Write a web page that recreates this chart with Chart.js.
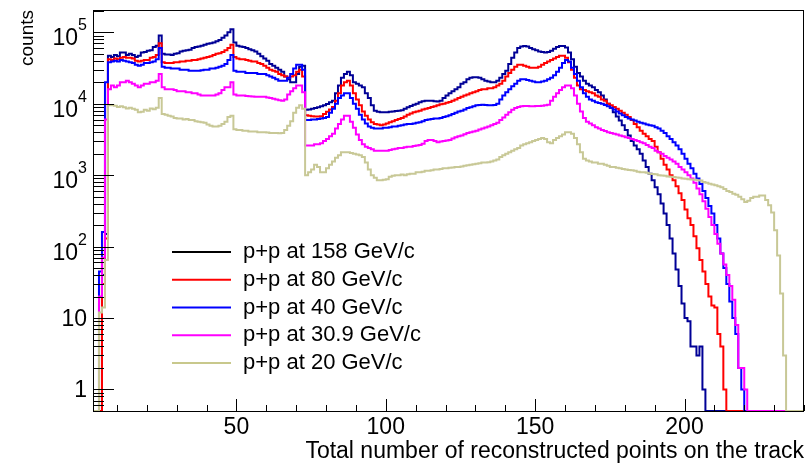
<!DOCTYPE html>
<html>
<head>
<meta charset="utf-8">
<script src="https://cdn.jsdelivr.net/npm/chart.js@4.4.1/dist/chart.umd.min.js"></script>
<style>
html,body{margin:0;padding:0;background:#fff}
canvas{display:block}
</style>
</head>
<body>
<canvas id="c" width="806" height="465"></canvas>
<script>
// histogram bins are 1 point wide, first bin starts at 2 points
const firstBin=2;

const pp158=[
 0,0,0,40,150,47000,45000,48000,46000,52000,
 52000,48000,50000,48000,45000,47000,52000,53000,55000,56000,
 62000,65000,90000,50000,49000,49000,48000,50000,51000,54000,
 55000,56000,57000,60000,62000,63000,65000,67000,69000,70000,
 72000,75000,78000,84000,90000,100000,110000,72000,65000,63000,
 62000,60000,58000,56000,54000,50000,46000,43000,40000,36000,
 34000,32000,30000,28000,24000,22000,20000,20000,26000,33000,
 34000,8200,8300,8500,8700,8900,9200,9500,9900,10500,
 11000,14000,18000,23000,26000,28000,25000,20000,19000,18000,
 17000,14000,12000,9500,8000,7700,7600,7600,7600,7700,
 7800,7900,8000,8100,8500,8900,9300,9700,10000,10500,
 10800,11000,11000,11000,10800,10700,11000,12000,13000,14000,
 15000,16000,17000,19000,20000,22000,23000,23500,23500,23000,
 22000,21000,20500,20000,20000,21000,23000,26000,29000,36000,
 44000,52000,60000,63000,64000,63000,60000,58000,56000,54000,
 53000,52000,53000,55000,59000,62000,64000,64000,61000,52000,
 42000,33000,27000,24000,21000,19000,18000,17000,15500,14500,
 13000,11500,10000,8800,7600,6600,5800,5000,4300,3600,
 3000,2600,2300,2000,1600,1300,1050,850,680,540,
 400,290,200,130,80,48,28,16,10,9,
 4,4,3,4,1,0,0,0,0,0,
 0,0,0,0,0,0,0,0,0,0,
 0,0,0,0,0,0,0,0,0,0,
 0,0,0,0,0,0,0,0
];
const pp80=[
 0,0,0,30,130,42000,41000,43000,42000,44000,
 45000,44000,44000,43000,40000,39000,40000,41000,41000,44000,
 45000,48000,70000,38000,37000,37000,37000,38000,38000,39000,
 39000,40000,40000,41000,41000,42000,43000,44000,45000,46000,
 48000,50000,51000,53000,56000,60000,67000,45000,43000,42000,
 42000,41000,40000,39000,39000,37000,36000,34000,32000,30000,
 29000,28000,26000,25000,24000,23000,24000,25000,28000,30000,
 24000,6900,6800,6700,6600,6600,6700,7200,7700,8300,
 9000,11000,14000,18000,20000,21000,18000,14000,11500,9500,
 7800,6800,6000,5500,5200,5100,5000,5100,5300,5500,
 5700,5900,6100,6300,6600,7000,7300,7600,7800,8000,
 8300,8500,8700,9000,9200,9500,9800,10000,10300,10600,
 11000,11500,12000,12500,13000,13500,14000,14500,15000,15500,
 16000,16000,16500,16500,17000,18000,19000,21000,24000,27000,
 30000,33000,35000,35000,34000,33000,32000,32000,32000,33000,
 35000,37000,39000,41000,43000,45000,47000,47000,44000,38000,
 30000,23000,18000,16000,15500,15000,14500,14000,13000,12500,
 11500,11000,10000,9500,9000,8500,8000,7500,7000,6500,
 5900,5200,4700,4200,3800,3500,3200,3000,2500,2100,
 1700,1400,1200,1000,850,700,560,450,330,250,
 200,140,95,65,45,30,20,15,14,6,
 4,1,0,0,0,0,0,0,0,0,
 0,0,0,0,0,0,0,0,0,0,
 0,0,0,0,0,0,0,0
];
const pp40=[
 0,0,45,160,20000,38000,39000,40000,39000,41000,
 40000,39000,38000,37000,35000,34000,35000,37000,37000,38000,
 39000,42000,60000,33000,32000,32000,31000,31000,31000,30000,
 30000,30000,29000,29000,29000,29000,29500,30000,30000,31000,
 31000,32000,33000,34000,36000,41000,48000,29000,28000,28000,
 28000,27000,27000,27000,27000,26000,26000,26000,25000,24000,
 23000,22000,21000,21000,21000,23000,26000,31000,35000,35000,
 30000,5900,5900,6000,6000,6100,6200,6300,6500,7500,
 8500,10000,12000,13000,14000,14000,12000,10000,8500,7000,
 6000,5300,4800,4600,4500,4500,4500,4600,4600,4700,
 4800,4800,4900,5000,5100,5200,5200,5300,5400,5500,
 5700,5900,6000,6100,6200,6200,6300,6500,6700,6900,
 7200,7500,7800,8000,8300,8700,8900,9200,9500,9600,
 9700,9600,9500,9500,9600,10000,11500,13000,14500,16000,
 17500,19000,21000,22000,22000,21500,21000,20500,20000,20000,
 20500,21000,22000,23000,25000,28000,32000,37000,41000,39000,
 32000,26000,21000,17000,14000,12500,11500,11000,10500,10200,
 10000,9600,9200,8800,8300,7800,7300,6900,6500,6200,
 6000,5800,5600,5400,5300,5100,5000,4900,4700,4500,
 4200,3900,3500,3200,2900,2600,2300,2000,1700,1450,
 1250,1050,900,750,600,480,370,290,200,130,
 80,50,30,17,10,6,2,1,0,0,
 0,0,0,0,0,0,0,0,0,0,
 0,0,0,0,0,0,0,0
];
const pp309=[
 0,0,20,70,6000,16000,18000,17000,18000,20000,
 20000,21000,20000,19000,18000,17000,18000,19000,19000,20000,
 20000,21000,26000,17000,16000,16000,16000,15500,15000,15000,
 15000,14500,14500,14000,14000,13500,13000,13000,13000,13000,
 13000,13500,14000,15500,17000,17000,20000,13500,13000,13000,
 13000,12800,12700,12600,12500,12500,12500,12500,12200,12000,
 11700,11500,11200,11000,11500,13500,15000,16500,18000,18000,
 14500,2600,2600,2600,2700,2700,2800,3000,3200,3500,
 3800,4500,5200,6000,6800,6800,5600,4600,3700,3100,
 2700,2500,2400,2300,2200,2200,2200,2200,2200,2250,
 2300,2350,2400,2400,2450,2500,2500,2550,2600,2650,
 2750,3000,3100,3100,3000,2900,2950,3000,3050,3100,
 3250,3400,3500,3600,3750,3900,4000,4100,4200,4350,
 4500,4650,4800,5000,5200,5400,5900,6400,7000,7600,
 8200,8700,9000,9200,9300,9300,9200,9200,9300,9300,
 9400,9500,9700,11000,12500,14000,15500,17000,18000,18000,
 16500,13000,10000,7800,6300,5600,5300,5000,4700,4500,
 4300,4150,4000,3900,3800,3700,3600,3500,3400,3300,
 3200,3100,3000,2900,2800,2650,2500,2400,2200,2100,
 2000,1850,1750,1650,1550,1450,1300,1200,1100,1000,
 900,780,650,540,430,340,260,200,150,110,
 80,56,40,28,18,8,2,2,1,0,
 0,0,0,0,0,0,0,0,0,0,
 0,0,0,0,0,0,0,0
];
const pp20=[
 0,0,12,14,65,9500,9500,9400,9000,9200,
 8900,8600,8800,8500,8200,7600,7700,8200,8000,8600,
 8400,8800,12000,7200,7000,6800,6600,6300,6200,6200,
 6000,6100,5900,5900,5700,5600,5500,5400,5100,4900,
 4800,4800,4900,5200,5600,6500,6800,4400,4300,4300,
 4200,4200,4100,4100,4100,4000,4000,4000,3950,3900,
 3900,3900,3850,3900,4300,4900,5700,7500,8800,9500,
 8500,1000,1100,1200,1400,1300,1100,1100,1250,1400,
 1550,1750,1900,2100,2100,2100,2050,2000,1950,1900,
 1800,1500,1200,1000,920,850,850,860,880,950,
 980,1000,1000,1020,1000,1030,1050,1050,1100,1100,
 1120,1150,1150,1170,1200,1200,1220,1250,1250,1270,
 1280,1300,1300,1320,1350,1380,1400,1420,1450,1470,
 1500,1500,1520,1550,1600,1650,1800,1900,2000,2100,
 2200,2300,2400,2600,2700,2800,2900,3000,3100,3200,
 3300,3200,2900,2800,3100,3300,3500,3700,4000,4000,
 3800,3300,2700,2100,1700,1600,1550,1500,1500,1450,
 1450,1400,1350,1300,1300,1270,1250,1220,1200,1180,
 1170,1150,1120,1100,1100,1080,1050,1040,1030,1000,
 990,980,960,950,940,930,920,900,890,880,
 870,860,850,840,800,780,760,740,720,700,
 680,640,600,580,550,530,500,460,420,440,
 480,500,500,520,520,450,380,300,170,75,
 22,3,0,0,0,0,0,0
];

const seriesLabels=['p+p at 158 GeV/c','p+p at 80 GeV/c','p+p at 40 GeV/c','p+p at 30.9 GeV/c','p+p at 20 GeV/c'];
const seriesValues=[pp158,pp80,pp40,pp309,pp20];
const lineColors=['#000096','#ff0000','#0000ff','#ff00ff','#c8c896'];
const legendColors=['#000000','#ff0000','#0000ff','#ff00ff','#c8c88c'];

const xTickLabels=[50,100,150,200];
const yTickValues=[1,10,100,1000,10000,100000];
const yTickLabels=['1','10','10^2','10^3','10^4','10^5'];
const xTitle='Total number of reconstructed points on the track';
const yTitle='counts';

const xMin=2, xMax=240, yMin=0.5, yMax=2.05e5;
const FONT='"Liberation Sans", Arial, Helvetica, sans-serif';

// empty bins sit on the bottom of the frame, like ROOT does on log axes
function histPoints(values){
  const pts=values.map((v,i)=>({x:firstBin+i,y:v>0?v:yMin}));
  pts.push({x:firstBin+values.length,y:pts[pts.length-1].y});
  return pts;
}

function drawLabel(ctx,label,xr,yc){
  const m=label.match(/^10\^(\d+)$/);
  ctx.textAlign='right'; ctx.textBaseline='alphabetic';
  if(!m){ ctx.font='23px '+FONT; ctx.fillText(label,xr,yc+8); return; }
  ctx.font='16px '+FONT;
  const sw=ctx.measureText(m[1]).width;
  ctx.fillText(m[1],xr,yc-2);
  ctx.font='23px '+FONT;
  ctx.fillText('10',xr-sw,yc+13);
}

const rootFrame={
  id:'rootFrame',
  afterDatasetsDraw(chart){
    const {ctx,chartArea:a,scales:{x,y}}=chart;
    ctx.save();
    ctx.strokeStyle='#000'; ctx.fillStyle='#000'; ctx.lineWidth=1;
    ctx.strokeRect(a.left+0.5,a.top+0.5,a.right-a.left-1,a.bottom-a.top);

    // x ticks: minor every 10, major every 50, pointing into the frame
    ctx.beginPath();
    for(let v=10;v<=xMax;v+=10){
      const px=Math.round(x.getPixelForValue(v))+0.5;
      const len=v%50===0?12:6;
      ctx.moveTo(px,a.bottom); ctx.lineTo(px,a.bottom-len);
    }
    // y ticks on the log axis
    for(let e=-1;e<=5;e++){
      for(let k=1;k<=9;k++){
        const v=k*Math.pow(10,e);
        if(v<yMin||v>yMax) continue;
        const py=Math.round(y.getPixelForValue(v))+0.5;
        ctx.moveTo(a.left,py); ctx.lineTo(a.left+(k===1?21:11),py);
      }
    }
    ctx.stroke();

    ctx.font='23px '+FONT; ctx.textAlign='center'; ctx.textBaseline='alphabetic';
    xTickLabels.forEach(v=>ctx.fillText(String(v),x.getPixelForValue(v),434));
    yTickValues.forEach((v,i)=>drawLabel(ctx,yTickLabels[i],87,y.getPixelForValue(v)));

    ctx.textAlign='right';
    ctx.fillText(xTitle,a.right,458);

    ctx.save();
    ctx.translate(33,a.top); ctx.rotate(-Math.PI/2);
    ctx.font='19px '+FONT; ctx.textAlign='right';
    ctx.fillText(yTitle,0,0);
    ctx.restore();

    // legend
    ctx.font='22px '+FONT; ctx.textAlign='left'; ctx.textBaseline='middle';
    seriesLabels.forEach((s,i)=>{
      const ly=252+i*27.75;
      ctx.strokeStyle=legendColors[i]; ctx.lineWidth=2;
      ctx.beginPath(); ctx.moveTo(172,ly); ctx.lineTo(231,ly); ctx.stroke();
      ctx.fillText(s,243,ly);
    });
    ctx.restore();
  }
};

new Chart(document.getElementById('c'),{
  type:'line',
  data:{
    datasets:seriesLabels.map((s,i)=>({
      label:s,
      data:histPoints(seriesValues[i]),
      borderColor:lineColors[i],
      borderWidth:2,
      pointRadius:0,
      stepped:'before',
      fill:false,
      order:seriesLabels.length-i
    }))
  },
  options:{
    responsive:false,
    animation:false,
    devicePixelRatio:1,
    layout:{padding:{left:93,right:2,top:10,bottom:54}},
    plugins:{legend:{display:false},tooltip:{enabled:false}},
    scales:{
      x:{type:'linear',min:xMin,max:xMax,display:false},
      y:{type:'logarithmic',min:yMin,max:yMax,display:false}
    }
  },
  plugins:[rootFrame]
});
</script>
</body>
</html>
